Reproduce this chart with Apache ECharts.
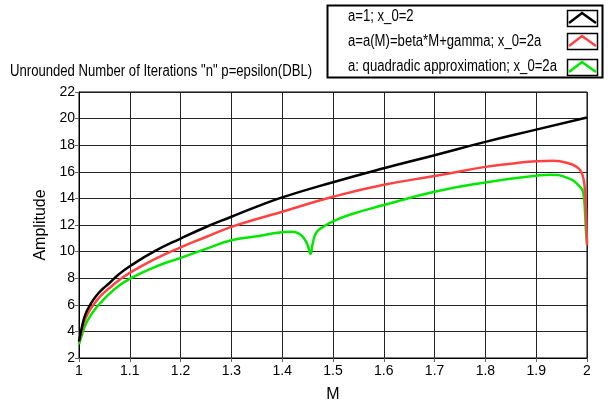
<!DOCTYPE html>
<html>
<head>
<meta charset="utf-8">
<script src="https://cdn.jsdelivr.net/npm/echarts@6/dist/echarts.min.js"></script>
<style>
  html, body { margin: 0; padding: 0; background: #fff; }
  #chart { width: 608px; height: 408px; }
</style>
</head>
<body>
<div id="chart"></div>
<script>
// Iteration counts n versus M for three choices of a and x_0
var seriesNames = [
  'a=1; x_0=2',
  'a=a(M)=beta*M+gamma; x_0=2a',
  'a: quadradic approximation; x_0=2a'
];
var seriesColors = ['#000000', '#ff4343', '#00e800'];
var titleText = 'Unrounded Number of Iterations "n" p=epsilon(DBL)';

var blackM = [1, 1.0065, 1.013, 1.023, 1.033, 1.046, 1.059, 1.078, 1.1, 1.15, 1.2, 1.25, 1.3, 1.35, 1.4, 1.5, 1.6, 1.7, 1.8, 1.9, 2.0];
var blackN = [3.25, 4.46, 5.32, 6.06, 6.63, 7.17, 7.6, 8.28, 8.9, 10.05, 10.98, 11.85, 12.62, 13.38, 14.08, 15.22, 16.27, 17.25, 18.25, 19.17, 20.08];

var redM = [1, 1.0065, 1.013, 1.023, 1.033, 1.046, 1.059, 1.078, 1.1, 1.15, 1.2, 1.25, 1.3, 1.35, 1.4, 1.5, 1.6, 1.7, 1.8, 1.85, 1.9, 1.934, 1.967, 1.98, 1.987, 1.993, 1.996, 1.998, 2.0];
var redN = [3.2, 4.2, 5.0, 5.69, 6.23, 6.8, 7.22, 7.83, 8.4, 9.45, 10.32, 11.1, 11.86, 12.45, 13.0, 14.12, 15.02, 15.68, 16.37, 16.6, 16.8, 16.83, 16.6, 16.35, 16.1, 15.5, 14.5, 13.0, 10.5];

var greenM = [1, 1.0065, 1.013, 1.023, 1.033, 1.046, 1.059, 1.078, 1.1, 1.15, 1.2, 1.25, 1.3, 1.35, 1.38, 1.4, 1.42, 1.435, 1.444, 1.45, 1.4556, 1.46, 1.467, 1.48, 1.5, 1.533, 1.6, 1.7, 1.8, 1.9, 1.927, 1.96, 1.983, 1.993, 1.996, 1.998, 2.0];
var greenN = [3.03, 3.84, 4.53, 5.2, 5.74, 6.3, 6.8, 7.41, 7.95, 8.85, 9.53, 10.2, 10.85, 11.15, 11.36, 11.46, 11.5, 11.3, 10.93, 10.5, 9.83, 10.6, 11.42, 11.85, 12.28, 12.77, 13.5, 14.5, 15.2, 15.7, 15.78, 15.56, 15.0, 14.3, 13.0, 11.5, 10.7];

var xTicks = [1, 1.1, 1.2, 1.3, 1.4, 1.5, 1.6, 1.7, 1.8, 1.9, 2];
var yTicks = [2, 4, 6, 8, 10, 12, 14, 16, 18, 20, 22];

function pairs(xs, ys) {
  return xs.map(function (x, i) { return [x, ys[i]]; });
}
function nearest(list, v) {
  return list.reduce(function (a, b) { return Math.abs(b - v) < Math.abs(a - v) ? b : a; });
}

var FONT = '"Liberation Sans", Arial, sans-serif';
var NARROW = 0.82; // horizontal squeeze giving a condensed face
var chart = echarts.init(document.getElementById('chart'), null, { renderer: 'canvas' });

var graphics = [{
  type: 'text',
  x: 10, y: 72, scaleX: NARROW,
  style: { text: titleText, x: 0, y: 0, font: '16px ' + FONT, fill: '#000', verticalAlign: 'middle' },
  z: 10
}, {
  type: 'rect',
  shape: { x: 327.5, y: 5.5, width: 275, height: 72 },
  style: { fill: '#fff', stroke: '#000', lineWidth: 2 },
  z: 10
}];
var rowY = [17, 42, 67];
var swatchTop = [10, 33, 59];
seriesNames.forEach(function (name, i) {
  graphics.push({
    type: 'text',
    x: 348, y: rowY[i], scaleX: NARROW,
    style: { text: name, x: 0, y: 0, font: '16px ' + FONT, fill: '#000', verticalAlign: 'middle' },
    z: 11
  });
  graphics.push({
    type: 'rect',
    shape: { x: 567.5, y: swatchTop[i] + 0.5, width: 30, height: 16 },
    style: { fill: '#fff', stroke: '#000', lineWidth: 1.5 },
    z: 11
  });
  graphics.push({
    type: 'polyline',
    shape: { points: [[569, swatchTop[i] + 13], [582, swatchTop[i] + 3], [596, swatchTop[i] + 13]] },
    style: { stroke: seriesColors[i], lineWidth: 2.5, fill: null },
    z: 12
  });
});

var lineSeries = [pairs(blackM, blackN), pairs(redM, redN), pairs(greenM, greenN)].map(function (d, i) {
  return {
    name: seriesNames[i],
    type: 'line',
    data: d,
    showSymbol: false,
    smooth: 0.5,
    lineStyle: { color: seriesColors[i], width: 2.5 },
    z: 5 - i,
    animation: false
  };
});

chart.setOption({
  animation: false,
  backgroundColor: '#fff',
  grid: {
    left: 79, right: 21, top: 92, bottom: 46,
    show: true, borderColor: '#000', borderWidth: 1, backgroundColor: '#fff'
  },
  xAxis: {
    type: 'value',
    min: 1, max: 2, interval: 0.1,
    name: 'M',
    nameLocation: 'middle',
    nameGap: 29,
    nameTextStyle: { fontFamily: FONT, fontSize: 16, color: '#000' },
    axisLine: { show: true, lineStyle: { color: '#000', width: 1 } },
    axisTick: { show: true, length: 4, lineStyle: { color: '#666' } },
    axisLabel: {
      fontFamily: FONT, fontSize: 14, color: '#000', margin: 6,
      formatter: function (v) { return String(nearest(xTicks, v)); }
    },
    splitLine: { show: true, lineStyle: { color: '#222', width: 1 } }
  },
  yAxis: {
    type: 'value',
    min: 2, max: 22, interval: 2,
    name: 'Amplitude',
    nameLocation: 'middle',
    nameGap: 27,
    nameTextStyle: { fontFamily: FONT, fontSize: 16, color: '#000' },
    axisLine: { show: true, lineStyle: { color: '#000', width: 1 } },
    axisTick: { show: true, length: 4, lineStyle: { color: '#666' } },
    axisLabel: {
      fontFamily: FONT, fontSize: 14, color: '#000', margin: 4,
      formatter: function (v) { return String(nearest(yTicks, v)); }
    },
    splitLine: { show: true, lineStyle: { color: '#222', width: 1 } }
  },
  graphic: graphics,
  series: lineSeries
});
</script>
</body>
</html>
